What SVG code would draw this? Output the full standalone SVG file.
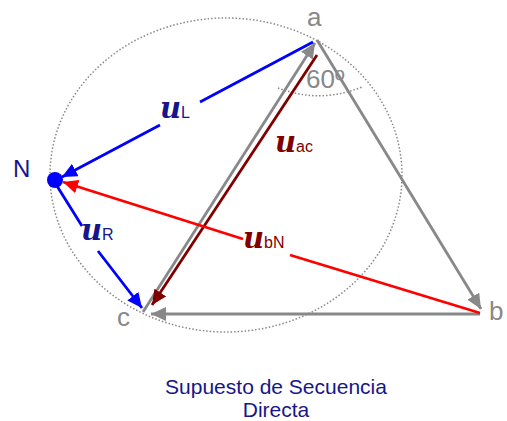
<svg xmlns="http://www.w3.org/2000/svg" width="507" height="421" viewBox="0 0 507 421">
<style>
.lbl{font-family:"Liberation Sans",Arial,sans-serif;font-size:26px;fill:#888}
.u{font-family:"DejaVu Serif",serif;font-style:italic;font-weight:bold;font-size:29px}
.sub{font-family:"Liberation Sans",Arial,sans-serif;font-size:16px;font-style:normal;font-weight:normal}
.cap{font-family:"Liberation Sans",Arial,sans-serif;font-size:21px;fill:#16168a;text-anchor:middle}
.dot{fill:none;stroke:#888;stroke-width:1.5;stroke-dasharray:1.5 2}
</style>
<defs>
<marker id="ag" markerUnits="userSpaceOnUse" markerWidth="16" markerHeight="14" refX="15" refY="7" orient="auto"><path d="M0,0 L15,7 L0,14 z" fill="#888"/></marker>
<marker id="ab" markerUnits="userSpaceOnUse" markerWidth="16" markerHeight="14" refX="15" refY="7" orient="auto"><path d="M0,0 L15,7 L0,14 z" fill="#0000ff"/></marker>
<marker id="ar" markerUnits="userSpaceOnUse" markerWidth="16" markerHeight="14" refX="15" refY="7" orient="auto"><path d="M0,0 L15,7 L0,14 z" fill="#ff0000"/></marker>
<marker id="ad" markerUnits="userSpaceOnUse" markerWidth="16" markerHeight="14" refX="15" refY="7" orient="auto"><path d="M0,0 L15,7 L0,14 z" fill="#800000"/></marker>
</defs>
<rect width="507" height="421" fill="#fff"/>
<ellipse class="dot" cx="226" cy="175" rx="176" ry="157"/>
<path class="dot" d="M278,88 Q320,104 362,87"/>
<g id="connectors" fill="none" stroke-width="2.8">
<line x1="143" y1="312" x2="315" y2="43" stroke="#888" marker-end="url(#ag)"/>
<line x1="317" y1="40" x2="481" y2="309" stroke="#888" marker-end="url(#ag)"/>
<line x1="480" y1="314" x2="151" y2="314" stroke="#888" marker-end="url(#ag)"/>
<line x1="317" y1="55" x2="152" y2="305" stroke="#800000" marker-end="url(#ad)"/>
<path d="M313,42 L200,102 M160,125 L62,177" stroke="#0000ff" marker-end="url(#ab)"/>
<path d="M57,186 L82,226 M98,251 L142,308" stroke="#0000ff" marker-end="url(#ab)"/>
<path d="M480,313 L290,255 M243,239 L63,182" stroke="#ff0000" marker-end="url(#ar)"/>
</g>
<g id="N"><circle cx="55" cy="180" r="8" fill="#0000ff"/><text x="13" y="177" font-family="Liberation Sans,Arial,sans-serif" font-size="24" fill="#16168a">N</text></g>
<g id="a"><text class="lbl" x="307" y="26">a</text></g>
<g id="b"><text class="lbl" x="489" y="320">b</text></g>
<g id="c"><text class="lbl" x="117" y="326">c</text></g>
<g id="angle"><text class="lbl" x="306" y="88" font-size="21">60º</text></g>
<g id="uL" fill="#16168a"><text class="u" x="160" y="118">u<tspan class="sub">L</tspan></text></g>
<g id="uac" fill="#800000"><text class="u" x="275" y="152">u<tspan class="sub">ac</tspan></text></g>
<g id="uR" fill="#16168a"><text class="u" x="81" y="240">u<tspan class="sub">R</tspan></text></g>
<g id="ubN" fill="#800000"><text class="u" x="243" y="248">u<tspan class="sub">bN</tspan></text></g>
<g id="caption"><text class="cap" x="276" y="394">Supuesto de Secuencia</text><text class="cap" x="276" y="417">Directa</text></g>
</svg>
